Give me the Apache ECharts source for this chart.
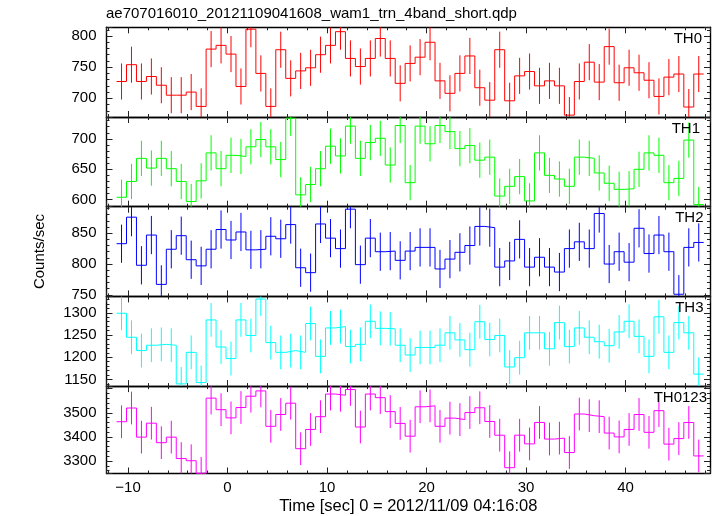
<!DOCTYPE html>
<html><head><meta charset="utf-8">
<script src="https://cdn.jsdelivr.net/npm/echarts@6/dist/echarts.min.js"></script>
<style>html,body{margin:0;padding:0;background:#fff}#c{width:717px;height:516px}</style>
</head><body><div id="c"></div>
<script>
// ---------------- data ----------------
const chartTitle = 'ae707016010_20121109041608_wam1_trn_4band_short.qdp';
const xTitle = 'Time [sec] 0 = 2012/11/09 04:16:08';
const yTitle = 'Counts/sec';
const panelNames = ['TH0', 'TH1', 'TH2', 'TH3', 'TH0123'];
const panelColors = ['#ff0000', '#00ff00', '#0000ff', '#00ffff', '#ff00ff'];

// bin centres (s) and half bin width
const timeCenters = [-10.65, -9.65, -8.65, -7.65, -6.65, -5.65, -4.65, -3.65, -2.65, -1.65,
  -0.65, 0.35, 1.35, 2.35, 3.35, 4.35, 5.35, 6.35, 7.35, 8.35,
  9.35, 10.35, 11.35, 12.35, 13.35, 14.35, 15.35, 16.35, 17.35, 18.35,
  19.35, 20.35, 21.35, 22.35, 23.35, 24.35, 25.35, 26.35, 27.35, 28.35,
  29.35, 30.35, 31.35, 32.35, 33.35, 34.35, 35.35, 36.35, 37.35, 38.35,
  39.35, 40.35, 41.35, 42.35, 43.35, 44.35, 45.35, 46.35, 47.35];
const binHalfWidth = 0.5;

const th0 = [727, 754, 727, 735, 721, 705, 705, 710, 687, 779, 785, 771, 719, 811, 740, 687, 778, 732, 744, 749,
  770, 785, 807, 764, 751, 764, 796, 764, 724, 756, 766, 790, 728, 708, 740, 768, 717, 697, 778, 696,
  736, 743, 720, 728, 720, 673, 727, 758, 726, 783, 725, 749, 741, 729, 703, 734, 739, 686, 739];
const th1 = [604, 630, 668, 652, 668, 651, 630, 597, 631, 677, 651, 673, 671, 687, 699, 687, 666, 734, 608, 625,
  651, 688, 672, 721, 668, 694, 701, 657, 722, 628, 721, 692, 722, 712, 684, 689, 665, 670, 606, 622,
  638, 598, 677, 640, 634, 622, 670, 668, 644, 627, 617, 618, 650, 677, 673, 628, 635, 698, 592];
const th2 = [833, 876, 798, 847, 767, 824, 846, 807, 797, 824, 856, 839, 852, 823, 824, 845, 841, 864, 794, 786,
  865, 842, 825, 889, 799, 842, 820, 821, 806, 821, 827, 827, 792, 808, 819, 830, 861, 859, 795, 805,
  840, 795, 811, 795, 787, 825, 836, 825, 882, 800, 820, 803, 858, 817, 847, 820, 751, 827, 835];
const th3 = [1299, 1245, 1215, 1227, 1229, 1227, 1140, 1211, 1143, 1284, 1223, 1197, 1284, 1249, 1331, 1233, 1211, 1215, 1211, 1276,
  1202, 1266, 1269, 1224, 1229, 1281, 1265, 1264, 1227, 1205, 1222, 1222, 1227, 1255, 1239, 1217, 1280, 1240, 1249, 1178,
  1199, 1255, 1255, 1219, 1278, 1224, 1266, 1245, 1235, 1226, 1257, 1281, 1247, 1202, 1291, 1211, 1278, 1255, 1162];
const th0123 = [3463, 3520, 3399, 3457, 3376, 3399, 3310, 3301, 3249, 3561, 3513, 3479, 3522, 3569, 3591, 3444, 3493, 3540, 3351, 3431,
  3484, 3578, 3573, 3597, 3441, 3578, 3563, 3505, 3456, 3403, 3525, 3529, 3444, 3478, 3472, 3501, 3521, 3464, 3407, 3272,
  3407, 3371, 3460, 3391, 3395, 3335, 3495, 3488, 3484, 3416, 3400, 3431, 3493, 3419, 3509, 3370, 3393, 3460, 3321];
const rates = [th0, th1, th2, th3, th0123];
const rateErr = [29, 29, 31, 38, 68];   // 1-sigma half length of error bars

// axis ranges, tick steps and labelled ticks
const xMin = -12.16, xMax = 48.48, xTickStep = 10;
const xTickLabels = [-10, 0, 10, 20, 30, 40];
const yMin = [670, 588.5, 747.5, 1135, 3248];
const yMax = [814, 736, 893, 1337, 3611];
const yTickStep = [50, 50, 50, 50, 100];
const yTickLabels = [[700, 750, 800], [600, 650, 700], [750, 800, 850], [1150, 1200, 1250, 1300], [3300, 3400, 3500]];

// ---------------- layout / style ----------------
const FONT = '"Liberation Sans", Arial, Helvetica, sans-serif';
const gridLeft = 106.5, gridWidth = 603.5, gridTop0 = 27.3, panelH = 89.7;
const labelRight = [15, 17, 13.5, 13.5, 10];
const AX = '#000', TK = '#222';

const grids = [], xAxes = [], yAxes = [], series = [], titles = [];
titles.push({ text: chartTitle, left: 106, top: 6, padding: 0,
  textStyle: { fontFamily: FONT, fontSize: 15, fontWeight: 'normal', color: '#000' } });

function hasLabel(list, v) {
  return list.some(t => Math.abs(t - v) < 1e-6);
}
function fmtX(v) {
  if (!hasLabel(xTickLabels, v)) return '';
  return v < 0 ? '\u2212' + (-v) : String(v);
}

for (let i = 0; i < 5; i++) {
  const top = gridTop0 + i * panelH;
  grids.push({ left: gridLeft, width: gridWidth, top: top, height: panelH });
  const last = i === 4;
  const xCommon = {
    type: 'value', gridIndex: i, min: xMin, max: xMax,
    minInterval: xTickStep, maxInterval: xTickStep, splitNumber: 6,
    axisLine: { show: true, onZero: false, lineStyle: { color: AX, width: 1.4 } },
    axisTick: { show: true, inside: true, length: 6, lineStyle: { color: TK, width: 1 } },
    minorTick: { show: true, splitNumber: 5, length: 3, lineStyle: { color: TK, width: 1 } },
    splitLine: { show: false }, minorSplitLine: { show: false }
  };
  xAxes.push(Object.assign({}, xCommon, {
    position: 'bottom',
    axisLabel: { show: last, formatter: fmtX, showMinLabel: false, showMaxLabel: false,
      fontFamily: FONT, fontSize: 15, color: '#000', margin: 7 },
    name: last ? xTitle : '', nameLocation: 'middle', nameGap: 24.5,
    nameTextStyle: { fontFamily: FONT, fontSize: 16.5, color: '#000' }
  }));
  xAxes.push(Object.assign({}, xCommon, { position: 'top', axisLabel: { show: false } }));

  const labs = yTickLabels[i];
  const yCommon = {
    type: 'value', gridIndex: i, min: yMin[i], max: yMax[i],
    minInterval: yTickStep[i], maxInterval: yTickStep[i], splitNumber: 3,
    axisLine: { show: true, onZero: false, lineStyle: { color: AX, width: 1.4 } },
    axisTick: { show: true, inside: true, length: 6, lineStyle: { color: TK, width: 1 } },
    minorTick: { show: true, splitNumber: 5, length: 3, lineStyle: { color: TK, width: 1 } },
    splitLine: { show: false }, minorSplitLine: { show: false }
  };
  yAxes.push(Object.assign({}, yCommon, {
    position: 'left',
    axisLabel: { show: true, showMinLabel: false, showMaxLabel: false,
      formatter: v => (hasLabel(labs, v) ? String(v) : ''),
      fontFamily: FONT, fontSize: 15, color: '#000', margin: 10 },
    name: i === 2 ? yTitle : '', nameLocation: 'middle', nameGap: 59,
    nameTextStyle: { fontFamily: FONT, fontSize: 15, color: '#000' }
  }));
  yAxes.push(Object.assign({}, yCommon, { position: 'right', axisLabel: { show: false } }));

  // step histogram built from bin edges
  const vals = rates[i];
  const stepData = timeCenters.map((t, k) => [t - binHalfWidth, vals[k]]);
  stepData.push([timeCenters[timeCenters.length - 1] + binHalfWidth, vals[vals.length - 1]]);
  series.push({
    type: 'line', xAxisIndex: 2 * i, yAxisIndex: 2 * i, step: 'end',
    data: stepData, showSymbol: false, symbol: 'none', clip: true, silent: true,
    lineStyle: { color: panelColors[i], width: 1 }, animation: false
  });
  // error bars
  const errData = timeCenters.map((t, k) => [t, vals[k] - rateErr[i], vals[k] + rateErr[i]]);
  const col = panelColors[i];
  series.push({
    type: 'custom', xAxisIndex: 2 * i, yAxisIndex: 2 * i, clip: true, silent: true,
    data: errData, encode: { x: 0, y: [1, 2] }, animation: false,
    renderItem: function (params, api) {
      const p1 = api.coord([api.value(0), api.value(1)]);
      const p2 = api.coord([api.value(0), api.value(2)]);
      return { type: 'line', shape: { x1: p1[0], y1: p1[1], x2: p2[0], y2: p2[1] },
        style: { stroke: col, lineWidth: 1 } };
    }
  });

  titles.push({ text: panelNames[i], right: labelRight[i], top: top + 4, padding: 0,
    textStyle: { fontFamily: FONT, fontSize: 15, fontWeight: 'normal', color: '#000' } });
}

const chart = echarts.init(document.getElementById('c'), null, { renderer: 'canvas' });
chart.setOption({
  animation: false,
  backgroundColor: '#fff',
  title: titles,
  grid: grids, xAxis: xAxes, yAxis: yAxes, series: series
});
</script></body></html>
